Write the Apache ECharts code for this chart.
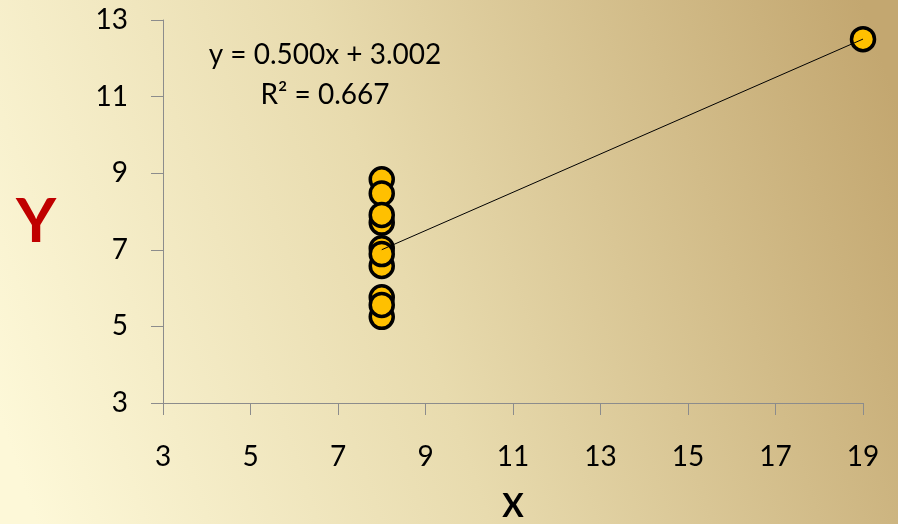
<!DOCTYPE html>
<html>
<head>
<meta charset="utf-8">
<script src="https://cdn.jsdelivr.net/npm/echarts@6/dist/echarts.min.js"></script>
<style>
  html, body { margin: 0; padding: 0; }
  #chart { width: 898px; height: 524px; }
</style>
</head>
<body>
<div id="chart"></div>
<script>
// Observations (x, y)
const xValues = [8, 8, 8, 8, 8, 8, 8, 19, 8, 8, 8];
const yValues = [6.58, 5.76, 7.71, 8.84, 8.47, 7.04, 5.25, 12.50, 5.56, 7.91, 6.89];

// Least-squares fit shown in the annotation
const slope = 0.500;
const intercept = 3.002;
const rSquared = 0.667;

// Axis ticks
const xTicks = [3, 5, 7, 9, 11, 13, 15, 17, 19];
const yTicks = [3, 5, 7, 9, 11, 13];

const points = xValues.map((x, i) => [x, yValues[i]]);
const fitX = [Math.min(...xValues), Math.max(...xValues)];
const fitLine = fitX.map(x => [x, slope * x + intercept]);

const font = 'Lato, "Open Sans", sans-serif';
const chart = echarts.init(document.getElementById('chart'));

chart.setOption({
  animation: false,
  backgroundColor: {
    type: 'linear', x: 0, y: 0.8, x2: 1, y2: 0.2,
    colorStops: [
      { offset: 0, color: '#fdf8d8' },
      { offset: 0.45, color: '#e8dbae' },
      { offset: 1, color: '#c3a770' }
    ]
  },
  grid: {
    left: 163, right: 35, top: 20, bottom: 121,
    containLabel: false, outerBoundsMode: 'none'
  },
  xAxis: {
    type: 'value',
    min: xTicks[0], max: xTicks[xTicks.length - 1], interval: 2,
    name: 'X', nameLocation: 'middle', nameGap: 88,
    nameTextStyle: { fontFamily: font, fontSize: 32, fontWeight: 'bold', color: '#000' },
    axisLine: { show: true, lineStyle: { color: '#8c8c8c', width: 1 } },
    axisTick: { show: true, inside: false, length: 12, lineStyle: { color: '#8c8c8c' } },
    axisLabel: { margin: 40, fontFamily: font, fontSize: 28, color: '#000' },
    splitLine: { show: false }
  },
  yAxis: {
    type: 'value',
    min: yTicks[0], max: yTicks[yTicks.length - 1], interval: 2,
    axisLine: { show: true, lineStyle: { color: '#8c8c8c', width: 1 } },
    axisTick: { show: true, inside: false, length: 12, lineStyle: { color: '#8c8c8c' } },
    axisLabel: { margin: 35, fontFamily: font, fontSize: 28, color: '#000' },
    splitLine: { show: false }
  },
  graphic: [
    {
      // vertical axis title
      type: 'text', x: 36, y: 222, z: 10,
      style: {
        text: 'Y',
        font: 'bold 62px ' + font, fill: '#c00000',
        textAlign: 'center', textVerticalAlign: 'middle'
      }
    },
    {
      type: 'text', x: 325, y: 55, z: 10,
      style: {
        text: 'y = ' + slope.toFixed(3) + 'x + ' + intercept.toFixed(3),
        font: '28px ' + font, fill: '#000',
        textAlign: 'center', textVerticalAlign: 'middle'
      }
    },
    {
      type: 'text', x: 325, y: 95, z: 10,
      style: {
        text: 'R² = ' + rSquared.toFixed(3),
        font: '28px ' + font, fill: '#000',
        textAlign: 'center', textVerticalAlign: 'middle'
      }
    }
  ],
  series: [
    {
      type: 'scatter',
      data: points,
      symbol: 'circle',
      symbolSize: 23,
      itemStyle: { color: '#ffc000', borderColor: '#000', borderWidth: 3.5, opacity: 1 },
      z: 2
    },
    {
      type: 'line',
      data: fitLine,
      symbol: 'none',
      lineStyle: { color: '#000', width: 1 },
      z: 3
    }
  ]
});
</script>
</body>
</html>
